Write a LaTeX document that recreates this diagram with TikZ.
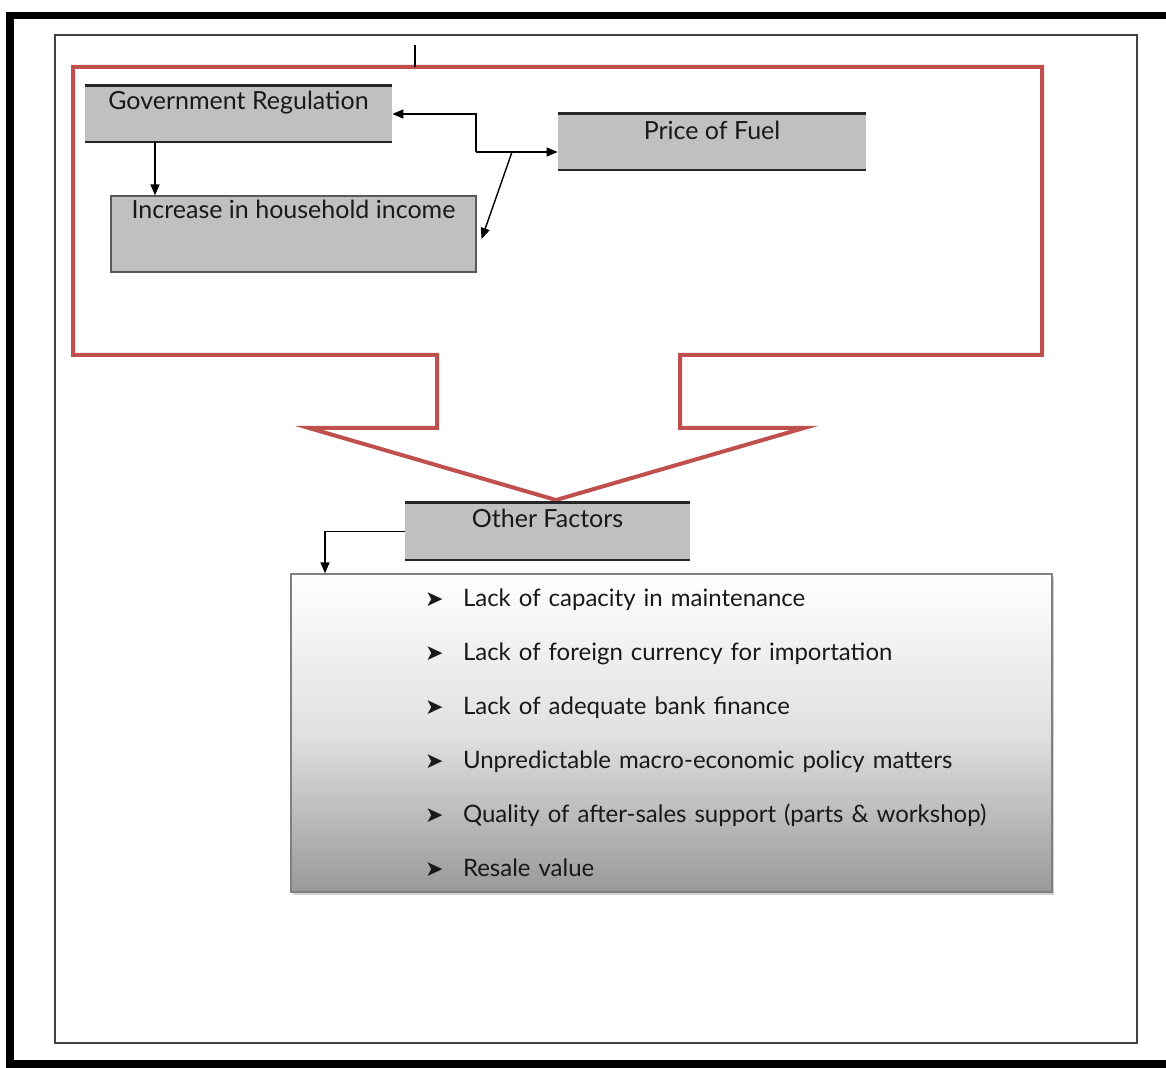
\documentclass[tikz,border=0pt]{standalone}
\usepackage{fontspec}
\setmainfont{Lato}
\newfontfamily\symfont{DejaVu Sans}
\usetikzlibrary{arrows.meta,shadows,calc}
\definecolor{boxgray}{HTML}{C0C0C0}
\definecolor{redline}{HTML}{C0504D}
\newcommand{\bul}{{\symfont\fontsize{11}{11}\selectfont ➤}}
\newcommand{\itm}[1]{\hspace*{67pt}\makebox[19pt][l]{\bul}#1}
\begin{document}
\begin{tikzpicture}[x=0.5pt,y=-0.5pt,
  arr/.style={-{Triangle[length=5.5pt,width=4.5pt]},line width=0.7pt,black},
  greybox/.style={rectangle,fill=boxgray,inner sep=0pt},
  edgeline/.style={line width=1.1pt,black!85},
  lbl/.style={font=\fontsize{12.5}{14}\selectfont,text=black!90,anchor=north}]
\useasboundingbox (0,0) rectangle (1166,1068);
\fill[white] (0,0) rectangle (1166,1068);
% outer black frame
\draw[line width=3.6pt,black] (10,15.5) rectangle (1180,1064);
% inner thin frame
\draw[line width=0.8pt,black!75] (55,35) rectangle (1137,1043);
% red outline arrow
\draw[redline,line width=2pt,line join=miter]
  (73,67) -- (1042,67) -- (1042,355) -- (680,355) -- (680,428) -- (804,428)
  -- (556,500) -- (309,428) -- (437,428) -- (437,355) -- (73,355) -- cycle;
% small tick
\draw[line width=1.2pt,black] (415,45) -- (415,67);
% boxes
\node[greybox,minimum width=153.5pt,minimum height=28pt,
      label={[lbl,yshift=1pt]north:Government Regulation}] (gr) at (238.5,114) {};
\draw[edgeline] (gr.north west) -- (gr.north east);
\draw[edgeline] (gr.south west) -- (gr.south east);
\node[greybox,minimum width=154pt,minimum height=28pt,
      label={[lbl,yshift=0pt]north:Price of Fuel}] (pf) at (712,142) {};
\draw[edgeline] (pf.north west) -- (pf.north east);
\draw[edgeline] (pf.south west) -- (pf.south east);
\node[greybox,draw=black!65,line width=0.6pt,minimum width=182.5pt,minimum height=38pt,
      label={[lbl,yshift=1pt]north:Increase in household income}] (hi) at (293.5,234) {};
\node[greybox,minimum width=142.5pt,minimum height=28.5pt,
      label={[lbl,yshift=0.5pt]north:Other Factors}] (of) at (547.5,531.5) {};
\draw[edgeline] (of.north west) -- (of.north east);
\draw[edgeline] (of.south west) -- (of.south east);
% list box
\node[rectangle,draw=black!50,line width=0.6pt,top color=white,bottom color=black!40,
      middle color=black!12,
      drop shadow={shadow xshift=1pt,shadow yshift=-1.5pt,opacity=0.35},
      minimum width=380.5pt,minimum height=159pt,inner sep=0pt,
      text width=380.5pt,align=left,text=black!90,
      font=\fontsize{12}{27}\selectfont] (lst) at (671.5,733)
  {\itm{Lack of capacity in maintenance}\\
   \itm{Lack of foreign currency for importation}\\
   \itm{Lack of adequate bank finance}\\
   \itm{Unpredictable macro-economic policy matters}\\
   \itm{Quality of after-sales support (parts \& workshop)}\\
   \itm{Resale value}};
% connectors
\coordinate (c1) at (155,0);
\draw[arr] (gr.south -| c1) -- (hi.north -| c1);
\coordinate (j) at (476,152);
\draw[arr] (j) -- (j -| pf.west);
\draw[arr] (j) |- (gr.east);
\coordinate (d) at (512,152);
\draw[arr] (d) -- ($(hi.east)+(5,5)$);
\coordinate (c2) at (325,0);
\draw[arr] (of.west) -| (lst.north -| c2);
\end{tikzpicture}
\end{document}
